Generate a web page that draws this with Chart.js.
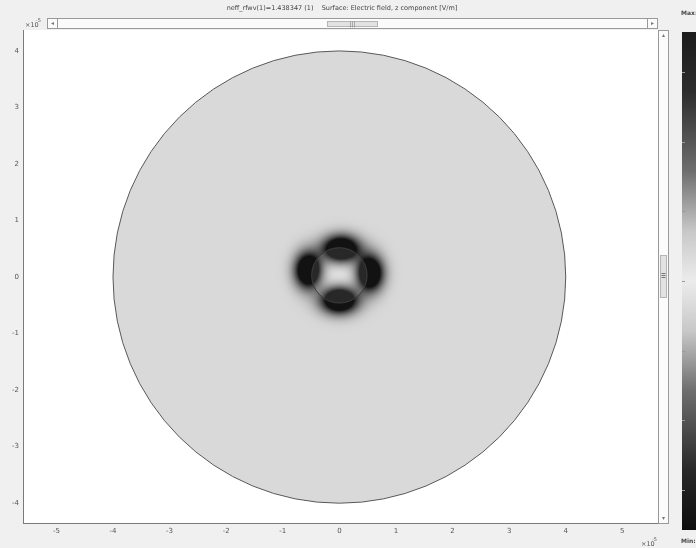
<!DOCTYPE html>
<html>
<head>
<meta charset="utf-8">
<script src="https://cdn.jsdelivr.net/npm/chart.js@4.4.1/dist/chart.umd.min.js"></script>
<style>
  html, body { margin: 0; padding: 0; background: #f0f0f0; }
  #wrap { width: 696px; height: 548px; }
</style>
</head>
<body>
<div id="wrap"><canvas id="plot" width="696" height="548"></canvas></div>
<script>
// axis ticks (units of 1e-5 m)
const xTicks = [-5, -4, -3, -2, -1, 0, 1, 2, 3, 4, 5];
const yTicks = [-4, -3, -2, -1, 0, 1, 2, 3, 4];
const xRange = [-5.59, 5.63];
const yRange = [-4.35, 4.37];

// geometry: cladding + core circles
const circleX = [0, 0];
const circleY = [0, 0.03];
const circleR = [4.0, 0.49];

// Ez lobes around the core
const lobeX = [0.03, 0.0, -0.55, 0.54];
const lobeY = [0.50, -0.41, 0.12, 0.07];
const lobeSX = [0.32, 0.32, 0.23, 0.23];
const lobeSY = [0.23, 0.23, 0.31, 0.31];
const lobeAmp = [1.8, 1.8, 1.8, 1.8];

// grey levels: outside, cladding, core, darkest
const shade = { outside: 255, cladding: 217, core: 238, dark: 18 };

// colour bar (top -> bottom)
const barStops = [0, 0.12, 0.28, 0.4, 0.5, 0.6, 0.72, 0.88, 1];
const barGrey = [28, 45, 110, 200, 236, 200, 110, 40, 14];
const barTicks = [0.08, 0.22, 0.36, 0.5, 0.64, 0.78, 0.92];

const titleText = 'neff_rfwv(1)=1.438347 (1)    Surface: Electric field, z component [V/m]';

function fieldDark(x, y) {
  let d = 0;
  for (let i = 0; i < lobeX.length; i++) {
    const dx = (x - lobeX[i]) / lobeSX[i];
    const dy = (y - lobeY[i]) / lobeSY[i];
    d += lobeAmp[i] * Math.exp(-(dx * dx + dy * dy));
  }
  return Math.min(1, d);
}

const fieldPlugin = {
  id: 'field',
  beforeDraw(chart) {
    const { ctx, chartArea: a, scales: { x: xs, y: ys } } = chart;
    ctx.save();
    ctx.fillStyle = '#f0f0f0';
    ctx.fillRect(0, 0, chart.width, chart.height);
    const w = Math.round(a.right - a.left), h = Math.round(a.bottom - a.top);
    const off = document.createElement('canvas');
    off.width = w; off.height = h;
    const octx = off.getContext('2d');
    const img = octx.createImageData(w, h);
    for (let py = 0; py < h; py++) {
      const yv = ys.getValueForPixel(a.top + py + 0.5);
      for (let px = 0; px < w; px++) {
        const xv = xs.getValueForPixel(a.left + px + 0.5);
        const r0 = Math.hypot(xv - circleX[0], yv - circleY[0]);
        const r1 = Math.hypot(xv - circleX[1], yv - circleY[1]);
        let g;
        if (r0 > circleR[0]) g = shade.outside;
        else {
          const inCore = r1 < circleR[1];
          const base = inCore ? shade.core : shade.cladding;
          let d = fieldDark(xv, yv);
          if (inCore) d = Math.min(1, d * 0.9);
          g = base - (base - shade.dark) * d;
        }
        const k = (py * w + px) * 4;
        img.data[k] = img.data[k + 1] = img.data[k + 2] = g;
        img.data[k + 3] = 255;
      }
    }
    octx.putImageData(img, 0, 0);
    ctx.drawImage(off, a.left, a.top);
    ctx.restore();
  },
  afterDraw(chart) {
    const { ctx, chartArea: a, scales: { x: xs, y: ys } } = chart;
    ctx.save();
    // circles
    ctx.beginPath();
    ctx.rect(a.left, a.top, a.right - a.left, a.bottom - a.top);
    ctx.clip();
    for (let i = 0; i < circleR.length; i++) {
      const cx = xs.getPixelForValue(circleX[i]);
      const cy = ys.getPixelForValue(circleY[i]);
      const rx = xs.getPixelForValue(circleX[i] + circleR[i]) - cx;
      const ry = cy - ys.getPixelForValue(circleY[i] + circleR[i]);
      ctx.beginPath();
      ctx.ellipse(cx, cy, rx, ry, 0, 0, Math.PI * 2);
      ctx.strokeStyle = i === 0 ? '#5a5a5a' : '#3c3c3c';
      ctx.lineWidth = 1;
      ctx.stroke();
    }
    ctx.restore();

    ctx.save();
    // horizontal scrollbar
    ctx.strokeStyle = '#9a9a9a';
    ctx.fillStyle = '#fbfbfb';
    ctx.fillRect(47.5, 18.5, 610, 10);
    ctx.strokeRect(47.5, 18.5, 610, 10);
    ctx.strokeRect(47.5, 18.5, 10, 10);
    ctx.strokeRect(647.5, 18.5, 10, 10);
    ctx.fillStyle = '#e2e2e2';
    ctx.fillRect(327.5, 21.5, 50, 5);
    ctx.strokeStyle = '#b5b5b5';
    ctx.strokeRect(327.5, 21.5, 50, 5);
    ctx.fillStyle = '#777';
    ctx.font = '6px "DejaVu Sans"';
    ctx.textAlign = 'center';
    ctx.textBaseline = 'middle';
    ctx.fillText('\u25C2', 52.5, 23.5);
    ctx.fillText('\u25B8', 652.5, 23.5);
    ctx.fillText('|||', 352.5, 24);

    // vertical scrollbar
    ctx.strokeStyle = '#9a9a9a';
    ctx.fillStyle = '#fbfbfb';
    ctx.fillRect(658.5, 30.5, 10, 493);
    ctx.strokeRect(658.5, 30.5, 10, 493);
    ctx.fillStyle = '#e2e2e2';
    ctx.fillRect(660.5, 255.5, 6, 42);
    ctx.strokeStyle = '#b5b5b5';
    ctx.strokeRect(660.5, 255.5, 6, 42);
    ctx.fillStyle = '#777';
    ctx.fillRect(661.5, 273, 4, 1);
    ctx.fillRect(661.5, 275, 4, 1);
    ctx.fillRect(661.5, 277, 4, 1);
    ctx.fillText('\u25B4', 663.5, 35);
    ctx.fillText('\u25BE', 663.5, 518);

    // colour bar
    const top = 32, bot = 530;
    const grad = ctx.createLinearGradient(0, top, 0, bot);
    barStops.forEach((s, i) => {
      const g = barGrey[i];
      grad.addColorStop(s, `rgb(${g},${g},${g})`);
    });
    ctx.fillStyle = grad;
    ctx.fillRect(682, top, 14, bot - top);
    ctx.strokeStyle = '#999';
    barTicks.forEach(t => {
      const yy = Math.round(top + t * (bot - top)) + 0.5;
      ctx.beginPath();
      ctx.moveTo(682, yy);
      ctx.lineTo(685, yy);
      ctx.stroke();
    });

    // texts
    ctx.fillStyle = '#444';
    ctx.textBaseline = 'middle';
    ctx.font = '6.5px "DejaVu Sans"';
    ctx.textAlign = 'center';
    ctx.fillText(titleText, 342, 8);
    ctx.textAlign = 'left';
    ctx.font = 'bold 6px "DejaVu Sans"';
    ctx.fillText('Max:', 681, 13);
    ctx.fillText('Min:', 681, 541);
    ctx.font = '6.5px "DejaVu Sans"';
    ctx.fillStyle = '#555';
    ctx.fillText('\u00D710', 25, 25);
    ctx.fillText('\u00D710', 641, 544);
    ctx.font = '5px "DejaVu Sans"';
    ctx.fillText('-5', 36, 21);
    ctx.fillText('-5', 652, 540);
    ctx.restore();
  }
};

const tickFont = { family: 'DejaVu Sans', size: 7 };

new Chart(document.getElementById('plot'), {
  type: 'scatter',
  data: {
    datasets: [{
      label: 'lobes',
      data: lobeX.map((x, i) => ({ x, y: lobeY[i] })),
      pointRadius: 0,
      showLine: false
    }]
  },
  options: {
    responsive: false,
    animation: false,
    events: [],
    layout: { padding: { top: 30, right: 38, left: 0, bottom: 0 } },
    plugins: { legend: { display: false }, title: { display: false }, tooltip: { enabled: false } },
    scales: {
      x: {
        type: 'linear',
        min: xRange[0],
        max: xRange[1],
        afterBuildTicks: s => { s.ticks = xTicks.map(v => ({ value: v })); },
        afterFit: s => { s.height = 25; },
        grid: { display: false, drawTicks: false },
        border: { display: true, color: '#7a7a7a', width: 1 },
        ticks: { font: tickFont, color: '#555', padding: 4, maxRotation: 0, autoSkip: false,
                 callback: v => String(v) }
      },
      y: {
        type: 'linear',
        min: yRange[0],
        max: yRange[1],
        afterBuildTicks: s => { s.ticks = yTicks.map(v => ({ value: v })); },
        afterFit: s => { s.width = 23; },
        grid: { display: false, drawTicks: false },
        border: { display: true, color: '#7a7a7a', width: 1 },
        ticks: { font: tickFont, color: '#555', padding: 4, autoSkip: false,
                 callback: v => String(v) }
      }
    }
  },
  plugins: [fieldPlugin]
});
</script>
</body>
</html>
